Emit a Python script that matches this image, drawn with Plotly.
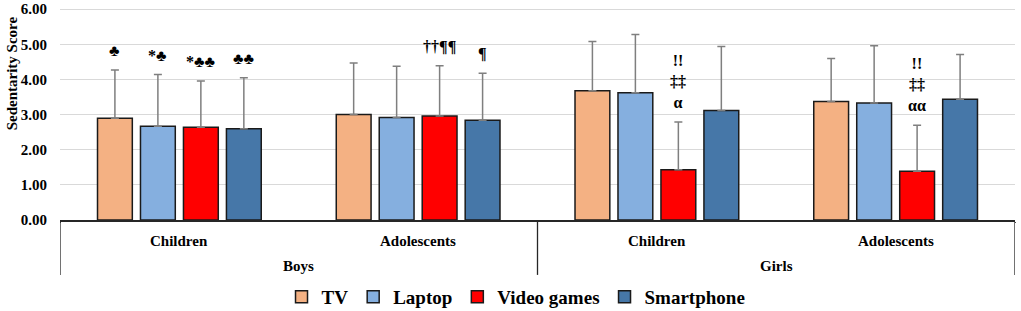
import plotly.graph_objects as go

# ---- data ----
gender = ["Boys", "Boys", "Girls", "Girls"]
age_group = ["Children", "Adolescents", "Children", "Adolescents"]
gender_groups = ["Boys", "Girls"]

series_names = ["TV", "Laptop", "Video games", "Smartphone"]
tv_mean = [2.90, 3.00, 3.68, 3.37]
tv_sd = [1.37, 1.47, 1.40, 1.23]
laptop_mean = [2.67, 2.92, 3.62, 3.33]
laptop_sd = [1.47, 1.46, 1.66, 1.63]
video_mean = [2.64, 2.96, 1.43, 1.39]
video_sd = [1.32, 1.43, 1.36, 1.31]
smart_mean = [2.60, 2.84, 3.12, 3.44]
smart_sd = [1.45, 1.34, 1.82, 1.27]

tv_marks = ["♣", "", "", ""]
laptop_marks = ["*♣", "", "", ""]
video_marks = ["*♣♣", "††¶¶", "!!<br>‡‡<br>α", "!!<br>‡‡<br>αα"]
smart_marks = ["♣♣", "¶", "", ""]

y_ticks = [0, 1, 2, 3, 4, 5, 6]

colors = ["#F4B183", "#85AFDF", "#FF0000", "#4677A8"]

means = [tv_mean, laptop_mean, video_mean, smart_mean]
sds = [tv_sd, laptop_sd, video_sd, smart_sd]
marks = [tv_marks, laptop_marks, video_marks, smart_marks]

FONT = "Liberation Serif"
BARGAP = 0.28
AXIS_COLOR = "#262626"

fig = go.Figure()
for name, m, s, c in zip(series_names, means, sds, colors):
    fig.add_trace(go.Bar(
        name=name,
        x=[gender, age_group],
        y=m,
        marker=dict(color=c, line=dict(color="#1a1a1a", width=1.5)),
        error_y=dict(type="data", array=s, arrayminus=[0] * len(s), symmetric=False,
                     color="#7f7f7f", thickness=1.5, width=4),
    ))

# significance marks above error bars
n = len(series_names)
slot = (1 - BARGAP) / n
for i, (m, s, mk) in enumerate(zip(means, sds, marks)):
    off = -(1 - BARGAP) / 2 + slot * (i + 0.5)
    for j, t in enumerate(mk):
        if not t:
            continue
        fig.add_annotation(
            x=j + off, y=m[j] + s[j], xref="x", yref="y",
            text=t, showarrow=False, yanchor="bottom", yshift=9,
            font=dict(family=FONT, size=16, color="black", weight="bold"),
        )

# two-level category labels (Excel style)
lab_font = dict(family=FONT, size=15, color="black", weight="bold")
for j, a in enumerate(age_group):
    fig.add_annotation(x=j, y=-0.099, xref="x", yref="paper", text=a, showarrow=False,
                       xanchor="center", yanchor="middle", font=lab_font)
per = len(age_group) // len(gender_groups)
for k, g in enumerate(gender_groups):
    fig.add_annotation(x=k * per + (per - 1) / 2, y=-0.217, xref="x", yref="paper", text=g,
                       showarrow=False, xanchor="center", yanchor="middle", font=lab_font)
for k in range(len(gender_groups) + 1):
    xb = k * per - 0.5
    fig.add_shape(type="line", x0=xb, x1=xb, y0=0, y1=-0.259, xref="x", yref="paper",
                  line=dict(color=AXIS_COLOR, width=1.3))

fig.add_annotation(
    x=-0.05, y=0.693, xref="paper", yref="paper", text="Sedentarity Score",
    textangle=-90, showarrow=False, xanchor="center", yanchor="middle",
    font=dict(family=FONT, size=15, color="black", weight="bold"),
)

fig.update_layout(
    width=1021, height=311,
    margin=dict(l=60, r=6, t=8, b=91, autoexpand=False),
    barmode="group", bargap=BARGAP, bargroupgap=0.19,
    plot_bgcolor="white", paper_bgcolor="white",
    font=dict(family=FONT, color="black"),
    legend=dict(orientation="h", x=0.4775, xanchor="center", y=-0.363, yanchor="middle",
                font=dict(family=FONT, size=19, color="black", weight="bold"),
                tracegroupgap=0),
    xaxis=dict(showline=True, linecolor=AXIS_COLOR, linewidth=1.5, ticks="",
               automargin=False, showticklabels=False, range=[-0.5, 3.5]),
    yaxis=dict(range=[0, 6.035], tickvals=y_ticks, tickformat=".2f", automargin=False,
               showgrid=True, gridcolor="#d9d9d9", gridwidth=1.2, zeroline=False,
               showline=False, ticks="", ticklen=0, ticklabelstandoff=12,
               ticklabeloverflow="allow",
               tickfont=dict(family=FONT, size=15, color="black", weight="bold")),
)

fig.write_html("out.html", config={"displayModeBar": False},
               post_script="document.body.style.margin='0';")
